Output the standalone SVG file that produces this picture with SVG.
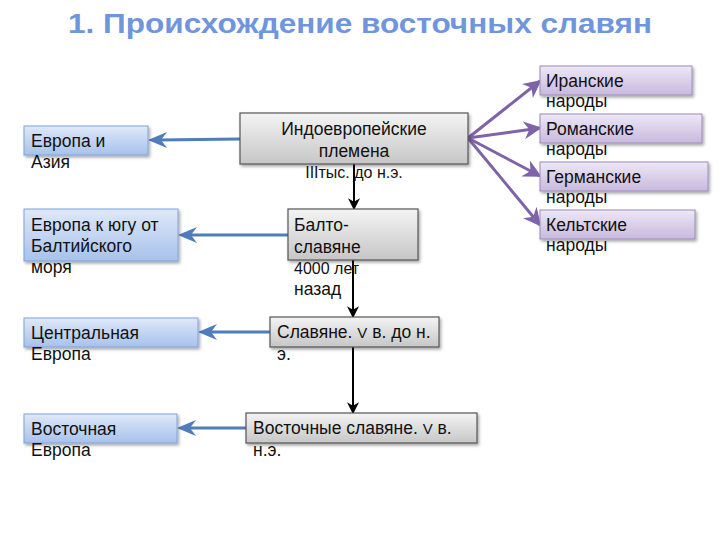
<svg xmlns="http://www.w3.org/2000/svg" width="720" height="540" viewBox="0 0 720 540">
<defs>
<linearGradient id="gGray" x1="0" y1="0" x2="0" y2="1"><stop offset="0" stop-color="#f4f4f4"/><stop offset="1" stop-color="#c6c6c6"/></linearGradient>
<linearGradient id="gBlue" x1="0" y1="0" x2="0" y2="1"><stop offset="0" stop-color="#dfe8f8"/><stop offset="1" stop-color="#a7c2ec"/></linearGradient>
<linearGradient id="gPurple" x1="0" y1="0" x2="0" y2="1"><stop offset="0" stop-color="#eee8f5"/><stop offset="1" stop-color="#c7b8de"/></linearGradient>
<filter id="sh" x="-10%" y="-20%" width="130%" height="160%"><feDropShadow dx="1.5" dy="2" stdDeviation="1.5" flood-color="#000" flood-opacity="0.35"/></filter>
<marker id="mPurple" viewBox="0 0 10 10" refX="9" refY="5" markerWidth="6" markerHeight="6" orient="auto"><path d="M10,5 L0,0 L3,5 L0,10 Z" fill="#7e63a8"/></marker>
<marker id="mBlack" viewBox="0 0 10 10" refX="9" refY="5" markerWidth="6" markerHeight="6" orient="auto"><path d="M10,5 L0,0 L3,5 L0,10 Z" fill="#000"/></marker>
</defs>
<style>
.t{font-family:"Liberation Sans",Arial,sans-serif;font-size:17.5px;fill:#111}
.gray{fill:url(#gGray);stroke:#555;stroke-width:1.2}
.blue{fill:url(#gBlue);stroke:#7fa3d8;stroke-width:1}
.purple{fill:url(#gPurple);stroke:#9c8abb;stroke-width:1}
.cb{stroke:#4f7cba;stroke-width:3;fill:none}
.cp{stroke:#7e63a8;stroke-width:3;fill:none}
.ck{stroke:#000;stroke-width:2;fill:none}
.ab{fill:#4f7cba}
</style>
<rect width="720" height="540" fill="#fff"/>
<text x="360" y="33" text-anchor="middle" font-family="Liberation Sans,Arial,sans-serif" font-weight="bold" font-size="28" fill="#6f95dc" textLength="584" lengthAdjust="spacingAndGlyphs">1. Происхождение восточных славян</text>

<g id="connectors">
<path class="cb" d="M240,139 L158,140"/>
<path class="cb" d="M288,235 L188,235"/>
<path class="cb" d="M270,332 L208,332"/>
<path class="cb" d="M246,428 L187,428"/>
<polygon class="ab" points="148,140 167,132 161,140 167,148"/>
<polygon class="ab" points="178,235 197,227 191,235 197,243"/>
<polygon class="ab" points="198,332 217,324 211,332 217,340"/>
<polygon class="ab" points="177,428 196,420 190,428 196,436"/>
<path class="cp" d="M468,138 L540,81" marker-end="url(#mPurple)"/>
<path class="cp" d="M468,138 L540,128" marker-end="url(#mPurple)"/>
<path class="cp" d="M468,138 L540,176" marker-end="url(#mPurple)"/>
<path class="cp" d="M468,138 L540,225" marker-end="url(#mPurple)"/>
<path class="ck" d="M354,164 L354,209" marker-end="url(#mBlack)"/>
<path class="ck" d="M353,260 L353,317" marker-end="url(#mBlack)"/>
<path class="ck" d="M353,347 L353,413" marker-end="url(#mBlack)"/>
</g>

<g id="n-indo"><rect class="gray" x="240" y="113" width="228" height="51" filter="url(#sh)"/>
<text class="t" text-anchor="middle"><tspan x="354" y="135">Индоевропейские</tspan><tspan x="354" y="157">племена</tspan><tspan x="354" y="178" font-size="16">IIIтыс. до н.э.</tspan></text></g>
<g id="n-balto"><rect class="gray" x="288" y="209" width="130" height="51" filter="url(#sh)"/>
<text class="t"><tspan x="294" y="231">Балто-</tspan><tspan x="294" y="253">славяне</tspan><tspan x="294" y="274" font-size="16">4000 лет</tspan><tspan x="294" y="295">назад</tspan></text></g>
<g id="n-slav"><rect class="gray" x="270" y="317" width="169" height="30" filter="url(#sh)"/>
<text class="t"><tspan x="277" y="338">Славяне. <tspan font-size="15">V</tspan> в. до н.</tspan><tspan x="277" y="360">э.</tspan></text></g>
<g id="n-east"><rect class="gray" x="246" y="413" width="231" height="30" filter="url(#sh)"/>
<text class="t"><tspan x="253" y="434">Восточные славяне. <tspan font-size="15">V</tspan> в.</tspan><tspan x="253" y="456">н.э.</tspan></text></g>

<g id="n-eurasia"><rect class="blue" x="24" y="126" width="124" height="29" filter="url(#sh)"/>
<text class="t"><tspan x="31" y="147">Европа и</tspan><tspan x="31" y="168">Азия</tspan></text></g>
<g id="n-baltic"><rect class="blue" x="24" y="209" width="154" height="52" filter="url(#sh)"/>
<text class="t"><tspan x="31" y="231">Европа к югу от</tspan><tspan x="31" y="252">Балтийского</tspan><tspan x="31" y="273">моря</tspan></text></g>
<g id="n-central"><rect class="blue" x="24" y="318" width="174" height="29" filter="url(#sh)"/>
<text class="t"><tspan x="31" y="339">Центральная</tspan><tspan x="31" y="360">Европа</tspan></text></g>
<g id="n-easteu"><rect class="blue" x="24" y="414" width="153" height="29" filter="url(#sh)"/>
<text class="t"><tspan x="31" y="435">Восточная</tspan><tspan x="31" y="456">Европа</tspan></text></g>

<g id="n-iran"><rect class="purple" x="540" y="66" width="152" height="29" filter="url(#sh)"/>
<text class="t"><tspan x="546" y="87">Иранские</tspan><tspan x="546" y="107">народы</tspan></text></g>
<g id="n-roman"><rect class="purple" x="540" y="114" width="162" height="29" filter="url(#sh)"/>
<text class="t"><tspan x="546" y="135">Романские</tspan><tspan x="546" y="155">народы</tspan></text></g>
<g id="n-german"><rect class="purple" x="540" y="162" width="168" height="29" filter="url(#sh)"/>
<text class="t"><tspan x="546" y="183">Германские</tspan><tspan x="546" y="203">народы</tspan></text></g>
<g id="n-celt"><rect class="purple" x="540" y="210" width="155" height="29" filter="url(#sh)"/>
<text class="t"><tspan x="546" y="231">Кельтские</tspan><tspan x="546" y="251">народы</tspan></text></g>
</svg>
